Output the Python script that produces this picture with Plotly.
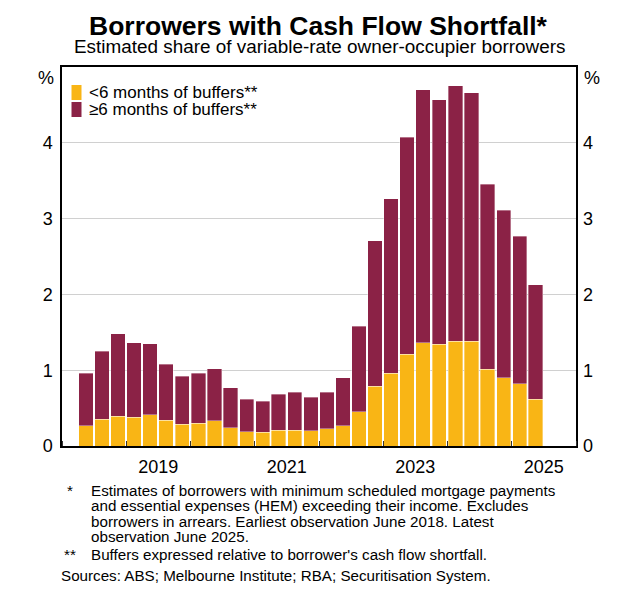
import pandas as pd
import plotly.graph_objects as go

# quarterly observations, June 2018 to June 2025
quarters = pd.date_range("2018-04-01", "2025-04-01", freq="QS")

# share of borrowers (%)
under_6m = [0.27, 0.35, 0.39, 0.38, 0.41, 0.34, 0.29, 0.30, 0.33, 0.24,
            0.19, 0.18, 0.21, 0.21, 0.20, 0.23, 0.27, 0.45, 0.79, 0.96,
            1.21, 1.36, 1.34, 1.38, 1.38, 1.01, 0.90, 0.82, 0.62]
over_6m = [0.69, 0.90, 1.09, 0.98, 0.94, 0.74, 0.63, 0.66, 0.69, 0.53,
           0.43, 0.41, 0.47, 0.50, 0.44, 0.48, 0.63, 1.13, 1.92, 2.30,
           2.86, 3.34, 3.23, 3.37, 3.28, 2.44, 2.21, 1.95, 1.51]

year_label_pos = ["2019-07-02", "2021-07-02", "2023-07-02", "2025-07-02"]
year_labels = ["2019", "2021", "2023", "2025"]
y_ticks = [0, 1, 2, 3, 4]

names = ["&lt;6 months of buffers**", "≥6 months of buffers**"]
YELLOW = "#F9B515"
MAROON = "#8B2246"
FONT = "Liberation Sans, Arial, sans-serif"

# the page puts the figure 8px in from the top-left corner
OFF = 8
W, H = 643 - OFF, 600 - OFF
L, R, T, B = 62 - OFF, 67, 67 - OFF, 154
pw, ph = W - L - R, H - T - B


def px(x):
    return (x - OFF - L) / pw


def py(y):
    return (H - B - (y - OFF)) / ph


fig = go.Figure()
fig.add_bar(x=quarters, y=under_6m, name=names[0], xperiod="M3",
            xperiodalignment="middle",
            marker=dict(color=YELLOW, line=dict(color="rgba(255,255,255,0.45)", width=0.8)))
fig.add_bar(x=quarters, y=over_6m, name=names[1], xperiod="M3",
            xperiodalignment="middle",
            marker=dict(color=MAROON, line=dict(color="rgba(255,255,255,0.45)", width=0.8)))
# invisible copy so the right-hand axis gets drawn
fig.add_scatter(x=quarters, y=under_6m, yaxis="y2", mode="markers",
                marker=dict(opacity=0), hoverinfo="skip", showlegend=False)

fig.update_layout(
    width=W, height=H,
    margin=dict(l=L, r=R, t=T, b=B),
    barmode="stack", bargap=0.1,
    plot_bgcolor="white", paper_bgcolor="white",
    font=dict(family=FONT, color="black", size=18),
    showlegend=False,
    xaxis=dict(
        type="date", range=["2018-01-01", "2026-01-01"],
        tickmode="array", tickvals=year_label_pos, ticktext=year_labels,
        ticks="", showgrid=False, showline=True, linecolor="black",
        linewidth=1.5, mirror=True, tickfont=dict(size=18),
        ticklabelstandoff=4,
        minor=dict(tick0="2018-01-01", dtick="M12", ticks="inside",
                   ticklen=5, tickcolor="#333", tickwidth=1, showgrid=False),
    ),
    yaxis=dict(
        range=[0, 5], tickvals=y_ticks, ticks="", showgrid=True,
        gridcolor="#d0d0d0", gridwidth=1, zeroline=False,
        showline=True, linecolor="black", linewidth=1.5, mirror=True,
        tickfont=dict(size=18), ticklabelstandoff=4,
    ),
    yaxis2=dict(
        range=[0, 5], tickvals=y_ticks, ticks="", overlaying="y",
        side="right", showgrid=False, zeroline=False, matches="y",
        tickfont=dict(size=18), ticklabelstandoff=6,
    ),
)

# legend drawn by hand to keep the tight row spacing of the original
for i, (name, col) in enumerate(zip(names, [YELLOW, MAROON])):
    top = 85 + i * 17
    fig.add_shape(type="rect", xref="paper", yref="paper",
                  x0=px(71.5), x1=px(81.5), y0=py(top), y1=py(top + 15),
                  fillcolor=col, line=dict(width=0))
    fig.add_annotation(text=name, xref="paper", yref="paper",
                       x=px(87), y=py(top + 7.5), xanchor="left",
                       yanchor="middle", showarrow=False, font=dict(size=17))

# unit labels
fig.add_annotation(text="%", xref="paper", yref="paper", x=px(56), y=py(78),
                   xanchor="right", yanchor="middle", showarrow=False)
fig.add_annotation(text="%", xref="paper", yref="paper", x=px(582), y=py(78),
                   xanchor="left", yanchor="middle", showarrow=False)

# titles
fig.add_annotation(text="<b>Borrowers with Cash Flow Shortfall*</b>",
                   xref="paper", yref="paper", x=px(318), y=py(26),
                   xanchor="center", yanchor="middle", showarrow=False,
                   font=dict(size=26.5))
fig.add_annotation(text="Estimated share of variable-rate owner-occupier borrowers",
                   xref="paper", yref="paper", x=px(319.5), y=py(47),
                   xanchor="center", yanchor="middle", showarrow=False,
                   font=dict(size=18.9))

# footnotes
notes = [
    ("*", 65, 88.5, 490, "Estimates of borrowers with minimum scheduled mortgage payments"),
    ("", 65, 88.5, 505.5, "and essential expenses (HEM) exceeding their income. Excludes"),
    ("", 65, 88.5, 521, "borrowers in arrears. Earliest observation June 2018. Latest"),
    ("", 65, 88.5, 536.5, "observation June 2025."),
    ("**", 62, 88.5, 554, "Buffers expressed relative to borrower's cash flow shortfall."),
    ("", 62, 59, 575, "Sources: ABS; Melbourne Institute; RBA; Securitisation System."),
]
for mark, mx, tx, y, txt in notes:
    if mark:
        fig.add_annotation(text=mark, xref="paper", yref="paper", x=px(mx),
                           y=py(y), xanchor="left", yanchor="middle",
                           showarrow=False, font=dict(size=15.2))
    fig.add_annotation(text=txt, xref="paper", yref="paper", x=px(tx),
                       y=py(y), xanchor="left", yanchor="middle",
                       showarrow=False, font=dict(size=15.2))

fig.write_html("out.html")
